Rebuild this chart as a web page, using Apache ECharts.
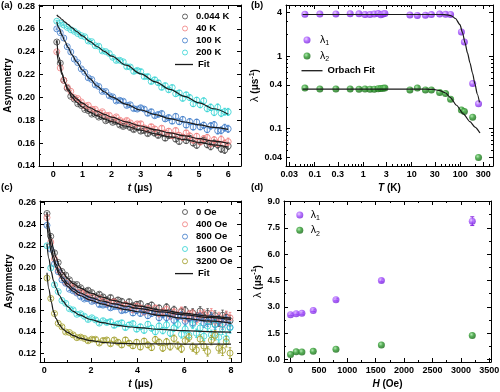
<!DOCTYPE html>
<html><head><meta charset="utf-8">
<script src="https://cdn.jsdelivr.net/npm/echarts@6/dist/echarts.min.js"></script>
<style>html,body{margin:0;padding:0;background:#fff}#c{width:500px;height:392px}</style>
</head><body><div id="c"></div>
<script>
// ---------- Panel (a): asymmetry vs time at several temperatures ----------
const T_A = [0.12,0.24,0.36,0.48,0.60,0.72,0.84,0.96,1.08,1.20,1.32,1.44,1.56,1.68,1.80,1.92,2.04,2.16,2.28,2.40,2.52,2.64,2.76,2.88,3.00,3.12,3.24,3.36,3.48,3.60,3.72,3.84,3.96,4.08,4.20,4.32,4.44,4.56,4.68,4.80,4.92,5.04,5.16,5.28,5.40,5.52,5.64,5.76,5.88,6.00];
const A_0044K = [0.2485,0.2300,0.2150,0.2080,0.2010,0.1985,0.1945,0.1930,0.1895,0.1885,0.1854,0.1853,0.1828,0.1830,0.1796,0.1805,0.1782,0.1789,0.1759,0.1746,0.1755,0.1736,0.1718,0.1734,0.1705,0.1710,0.1683,0.1701,0.1686,0.1667,0.1682,0.1643,0.1665,0.1666,0.1635,0.1614,0.1651,0.1622,0.1643,0.1601,0.1581,0.1615,0.1625,0.1587,0.1570,0.1600,0.1585,0.1550,0.1540,0.1575];
const A_40K = [0.2400,0.2258,0.2150,0.2090,0.2054,0.1999,0.1990,0.1961,0.1927,0.1931,0.1897,0.1896,0.1863,0.1875,0.1843,0.1844,0.1813,0.1830,0.1801,0.1784,0.1799,0.1778,0.1752,0.1769,0.1770,0.1734,0.1721,0.1745,0.1725,0.1693,0.1731,0.1690,0.1705,0.1665,0.1711,0.1669,0.1650,0.1690,0.1664,0.1626,0.1660,0.1610,0.1639,0.1649,0.1596,0.1629,0.1598,0.1633,0.1598,0.1613];
const A_100K = [0.2600,0.2567,0.2520,0.2444,0.2398,0.2336,0.2304,0.2250,0.2220,0.2172,0.2157,0.2110,0.2096,0.2053,0.2052,0.2015,0.2005,0.1969,0.1975,0.1967,0.1930,0.1936,0.1902,0.1898,0.1910,0.1898,0.1861,0.1876,0.1840,0.1851,0.1860,0.1812,0.1824,0.1792,0.1835,0.1787,0.1808,0.1758,0.1789,0.1741,0.1784,0.1743,0.1757,0.1719,0.1751,0.1761,0.1709,0.1712,0.1735,0.1725];
const A_200K = [0.2667,0.2650,0.2634,0.2613,0.2593,0.2579,0.2559,0.2541,0.2531,0.2494,0.2488,0.2453,0.2448,0.2407,0.2401,0.2385,0.2351,0.2324,0.2325,0.2312,0.2269,0.2266,0.2228,0.2237,0.2227,0.2182,0.2183,0.2139,0.2155,0.2129,0.2088,0.2104,0.2067,0.2087,0.2032,0.2040,0.1992,0.2023,0.1999,0.1945,0.1976,0.1936,0.1970,0.1902,0.1914,0.1869,0.1914,0.1862,0.1875,0.1873];
const ERR_A = [0.0008,0.0008,0.0008,0.0009,0.0009,0.0009,0.001,0.001,0.001,0.0011,0.0011,0.0011,0.0012,0.0012,0.0012,0.0013,0.0013,0.0014,0.0014,0.0014,0.0015,0.0015,0.0016,0.0016,0.0017,0.0017,0.0018,0.0018,0.0019,0.0019,0.002,0.002,0.0021,0.0021,0.0022,0.0022,0.0023,0.0023,0.0024,0.0025,0.0025,0.0026,0.0026,0.0027,0.0028,0.0028,0.0029,0.003,0.003,0.0031];
const FIT_T_A = [0.12,0.2,0.3,0.4,0.5,0.65,0.8,1,1.25,1.5,1.75,2,2.5,3,3.5,4,4.5,5,5.5,6];
const FIT_A_0044K = [0.2500,0.2350,0.2215,0.2125,0.2062,0.2000,0.1958,0.1915,0.1872,0.1840,0.1812,0.1788,0.1748,0.1713,0.1682,0.1655,0.1630,0.1607,0.1585,0.1565];
const FIT_A_40K = [0.2405,0.2300,0.2200,0.2130,0.2078,0.2025,0.1988,0.1950,0.1912,0.1880,0.1852,0.1828,0.1786,0.1750,0.1718,0.1690,0.1664,0.1640,0.1618,0.1598];
const FIT_A_100K = [0.2660,0.2605,0.2545,0.2490,0.2440,0.2370,0.2310,0.2240,0.2165,0.2100,0.2050,0.2005,0.1940,0.1890,0.1850,0.1815,0.1785,0.1760,0.1738,0.1720];
const FIT_A_200K = [0.2722,0.2704,0.2682,0.2660,0.2639,0.2608,0.2577,0.2538,0.2491,0.2446,0.2403,0.2362,0.2282,0.2207,0.2137,0.2071,0.2010,0.1953,0.1901,0.1853];
const A_X_TICKS = [0,1,2,3,4,5,6], A_X_MINOR = [0.5,1.5,2.5,3.5,4.5,5.5];
const A_Y_TICKS = [0.14,0.16,0.18,0.20,0.22,0.24,0.26,0.28], A_Y_MINOR = [0.15,0.17,0.19,0.21,0.23,0.25,0.27];

// ---------- Panel (b): relaxation rates vs temperature ----------
const T_B = [0.063,0.128,0.274,0.54,0.82,1.09,1.38,1.69,2.04,2.31,2.56,2.8,9.2,13.1,19.2,25.5,37.7,50,63.4,106,122,181,239];
const B_L1 = [3.78,3.8,3.82,3.85,3.84,3.76,3.74,3.8,3.86,3.72,3.82,3.88,3.7,3.64,3.66,3.74,3.8,3.77,3.76,2.15,1.56,0.42,0.22];
const B_L2 = [0.362,0.352,0.352,0.352,0.35,0.352,0.35,0.35,0.355,0.357,0.36,0.362,0.342,0.362,0.342,0.34,0.315,0.305,0.254,0.181,0.172,0.144,0.04];
const FIT_T_B1 = [0.0565,1,10,40,55,66,80,99,112,126,142,159,180,202,225,250];
const FIT_B1 = [3.75,3.75,3.75,3.75,3.7,3.6,3.3,2.71,2.1,1.52,1.1,0.81,0.58,0.41,0.3,0.23];
const FIT_T_B2 = [0.0565,1,10,20,28,38,50,62,84,116,159,202,256];
const FIT_B2 = [0.35,0.35,0.35,0.35,0.347,0.335,0.31,0.27,0.21,0.16,0.125,0.105,0.087];
const B_X_TICKS = [0.03,0.1,0.3,1,3,10,30,100,300];
const B_X_MINOR = [0.04,0.05,0.06,0.07,0.08,0.09,0.2,0.4,0.5,0.6,0.7,0.8,0.9,2,4,5,6,7,8,9,20,40,50,60,70,80,90,200,400];
const B_Y_TICKS = [0.04,0.1,0.4,1,4];
const B_Y_MINOR = [0.05,0.06,0.07,0.08,0.09,0.2,0.3,0.5,0.6,0.7,0.8,0.9,2,3,5];

// ---------- Panel (c): asymmetry vs time at several fields ----------
const T_C = [0.12,0.28,0.44,0.60,0.76,0.92,1.08,1.24,1.40,1.56,1.72,1.88,2.04,2.20,2.36,2.52,2.68,2.84,3.00,3.16,3.32,3.48,3.64,3.80,3.96,4.12,4.28,4.44,4.60,4.76,4.92,5.08,5.24,5.40,5.56,5.72,5.88,6.04,6.20,6.36,6.52,6.68,6.84,7.00,7.16,7.32,7.48,7.64,7.80,7.96];
const C_0 = [0.2500,0.2288,0.2134,0.2045,0.1961,0.1927,0.1884,0.1842,0.1840,0.1810,0.1778,0.1787,0.1765,0.1732,0.1750,0.1725,0.1700,0.1720,0.1684,0.1697,0.1684,0.1651,0.1681,0.1643,0.1656,0.1662,0.1613,0.1635,0.1649,0.1593,0.1621,0.1576,0.1630,0.1580,0.1605,0.1550,0.1587,0.1599,0.1531,0.1577,0.1538,0.1594,0.1536,0.1572,0.1514,0.1551,0.1497,0.1554,0.1536,0.1503];
const C_400 = [0.2462,0.2234,0.2078,0.1975,0.1923,0.1859,0.1838,0.1814,0.1768,0.1767,0.1758,0.1723,0.1725,0.1690,0.1712,0.1689,0.1664,0.1676,0.1680,0.1643,0.1628,0.1654,0.1637,0.1604,0.1640,0.1622,0.1584,0.1618,0.1588,0.1621,0.1568,0.1588,0.1608,0.1549,0.1582,0.1551,0.1596,0.1527,0.1563,0.1570,0.1511,0.1557,0.1564,0.1515,0.1572,0.1499,0.1536,0.1477,0.1544,0.1531];
const C_800 = [0.2390,0.2169,0.2031,0.1959,0.1884,0.1851,0.1796,0.1781,0.1760,0.1726,0.1705,0.1708,0.1683,0.1688,0.1653,0.1648,0.1653,0.1623,0.1634,0.1635,0.1597,0.1603,0.1616,0.1575,0.1597,0.1571,0.1595,0.1550,0.1571,0.1581,0.1531,0.1561,0.1532,0.1567,0.1508,0.1539,0.1552,0.1498,0.1534,0.1483,0.1534,0.1540,0.1481,0.1492,0.1534,0.1466,0.1507,0.1469,0.1514,0.1443];
const C_1600 = [0.2200,0.1994,0.1837,0.1774,0.1692,0.1665,0.1615,0.1604,0.1563,0.1568,0.1545,0.1515,0.1531,0.1511,0.1481,0.1504,0.1487,0.1496,0.1460,0.1475,0.1485,0.1440,0.1465,0.1477,0.1425,0.1447,0.1414,0.1471,0.1434,0.1401,0.1454,0.1412,0.1465,0.1388,0.1436,0.1469,0.1377,0.1426,0.1370,0.1468,0.1387,0.1436,0.1360,0.1453,0.1372,0.1471,0.1350,0.1424,0.1339,0.1438];
const C_3200 = [0.1900,0.1710,0.1570,0.1479,0.1447,0.1399,0.1394,0.1372,0.1346,0.1351,0.1339,0.1317,0.1332,0.1331,0.1296,0.1320,0.1325,0.1289,0.1325,0.1304,0.1278,0.1326,0.1295,0.1270,0.1304,0.1259,0.1314,0.1279,0.1254,0.1329,0.1304,0.1249,0.1308,0.1263,0.1338,0.1273,0.1243,0.1318,0.1348,0.1258,0.1233,0.1333,0.1268,0.1218,0.1323,0.1368,0.1248,0.1228,0.1308,0.1203];
const ERR_C = [0.001,0.001,0.001,0.0011,0.0011,0.0012,0.0012,0.0013,0.0013,0.0014,0.0014,0.0015,0.0015,0.0016,0.0017,0.0017,0.0018,0.0019,0.0019,0.002,0.0021,0.0022,0.0022,0.0023,0.0024,0.0025,0.0026,0.0026,0.0027,0.0028,0.0029,0.003,0.0031,0.0032,0.0033,0.0034,0.0035,0.0036,0.0037,0.0038,0.0039,0.004,0.0041,0.0043,0.0044,0.0045,0.0046,0.0048,0.0049,0.005];
const FIT_T_C = [0.12,0.2,0.3,0.4,0.5,0.65,0.8,1,1.25,1.5,2,2.5,3,3.5,4,5,6,7,8];
const FIT_C_0 = [0.2505,0.2370,0.2260,0.2170,0.2095,0.2010,0.1950,0.1895,0.1848,0.1812,0.1760,0.1722,0.1690,0.1665,0.1642,0.1603,0.1572,0.1547,0.1527];
const FIT_C_400 = [0.2470,0.2320,0.2200,0.2100,0.2030,0.1955,0.1900,0.1848,0.1800,0.1765,0.1718,0.1685,0.1660,0.1638,0.1618,0.1585,0.1558,0.1535,0.1515];
const FIT_C_800 = [0.2400,0.2260,0.2140,0.2065,0.2000,0.1930,0.1875,0.1822,0.1775,0.1740,0.1692,0.1657,0.1630,0.1607,0.1587,0.1553,0.1526,0.1502,0.1482];
const FIT_C_1600 = [0.2220,0.2080,0.1960,0.1875,0.1810,0.1738,0.1685,0.1635,0.1590,0.1558,0.1515,0.1485,0.1465,0.1450,0.1440,0.1423,0.1411,0.1403,0.1398];
const FIT_C_3200 = [0.1950,0.1800,0.1680,0.1590,0.1525,0.1465,0.1425,0.1395,0.1365,0.1342,0.1318,0.1303,0.1295,0.1291,0.1289,0.1288,0.1287,0.1287,0.1287];
const C_X_TICKS = [0,2,4,6,8], C_X_MINOR = [1,3,5,7];
const C_Y_TICKS = [0.12,0.14,0.16,0.18,0.20,0.22,0.24,0.26], C_Y_MINOR = [0.13,0.15,0.17,0.19,0.21,0.23,0.25];

// ---------- Panel (d): relaxation rates vs field ----------
const H_D = [0,100,200,400,800,1600,3200];
const D_L1 = [2.55,2.6,2.63,2.78,3.4,4.5,7.88];
const D_L1_ERR = [0.05,0.05,0.05,0.05,0.06,0.08,0.25];
const D_L2 = [0.28,0.43,0.42,0.46,0.58,0.82,1.36];
const D_X_TICKS = [0,500,1000,1500,2000,2500,3000,3500], D_X_MINOR = [250,750,1250,1750,2250,2750,3250];
const D_Y_TICKS = [0,1.5,3,4.5,6,7.5,9], D_Y_MINOR = [0.75,2.25,3.75,5.25,6.75,8.25];

// ---------- styling ----------
const F = '"Liberation Sans", Arial, Helvetica, sans-serif';
const COL = {k:'#404040', r:'#f07c7c', b:'#3a78c8', c:'#2fd3d3', o:'#9d9a1f'};
const PURPLE = {type:'radial',x:0.38,y:0.35,r:0.7,colorStops:[{offset:0,color:'#e6c6ff'},{offset:0.45,color:'#a553ff'},{offset:1,color:'#7420d8'}]};
const GREEN = {type:'radial',x:0.38,y:0.35,r:0.7,colorStops:[{offset:0,color:'#9fe39f'},{offset:0.45,color:'#2c9a2c'},{offset:1,color:'#126312'}]};

const X = [], Y = [];
function axisSet(list, c) {
  const isX = c.pos === 'bottom';
  const opp = isX ? 'top' : 'right';
  const tf = c.log ? (v => Math.log10(v)) : (v => v);
  let dataIdx;
  if (c.log) { dataIdx = list.length; list.push({type:'log', logBase:10, gridIndex:c.grid, min:c.min, max:c.max, position:c.pos, show:false, axisLine:{onZero:false}}); }
  const ls = {color:'#000', width:1};
  const base = {type:'value', gridIndex:c.grid, min:tf(c.min), max:tf(c.max), splitLine:{show:false}, splitArea:{show:false}, axisPointer:{show:false}, silent:true};
  if (!c.log) dataIdx = list.length;
  list.push(Object.assign({}, base, {position:c.pos,
    axisLine:{show:true, onZero:false, lineStyle:ls},
    axisTick:{show:true, inside:true, length:4, lineStyle:ls, customValues:c.major.map(tf)},
    axisLabel:{show:true, margin:c.margin, customValues:c.major.map(tf), formatter:c.fmt, fontFamily:F, fontWeight:'bold', fontSize:9, color:'#000'},
    name:c.name, nameLocation:'middle', nameGap:c.nameGap, nameTextStyle:c.nameStyle}));
  list.push(Object.assign({}, base, {position:c.pos, axisLine:{show:false, onZero:false}, axisTick:{show:true, inside:true, length:2, lineStyle:ls, customValues:c.minor.map(tf)}, axisLabel:{show:false}}));
  list.push(Object.assign({}, base, {position:opp, axisLine:{show:true, onZero:false, lineStyle:ls}, axisTick:{show:true, inside:true, length:4, lineStyle:ls, customValues:c.major.map(tf)}, axisLabel:{show:false}}));
  list.push(Object.assign({}, base, {position:opp, axisLine:{show:false, onZero:false}, axisTick:{show:true, inside:true, length:2, lineStyle:ls, customValues:c.minor.map(tf)}, axisLabel:{show:false}}));
  return dataIdx;
}
const titleStyle = () => ({fontFamily:F, fontWeight:'bold', fontSize:10, color:'#000', rich:{
  i:{fontFamily:F, fontWeight:'bold', fontStyle:'italic', fontSize:10, color:'#000', lineHeight:14},
  b:{fontFamily:F, fontWeight:'bold', fontSize:10, color:'#000', lineHeight:14},
  l:{fontFamily:F, fontWeight:'normal', fontSize:11, color:'#000', lineHeight:14},
  s:{fontFamily:F, fontWeight:'bold', fontSize:7, color:'#000', verticalAlign:'top'}
}});
const fmt2 = v => v.toFixed(2), fmt1 = v => v.toFixed(1), fmt0 = v => String(Math.round(v));
const fmtLog = v => String(Number(Math.pow(10, v).toPrecision(2)));

const xa = axisSet(X, {grid:0, pos:'bottom', min:-0.49, max:6.44, major:A_X_TICKS, minor:A_X_MINOR, fmt:fmt0, margin:4, name:'{i|t} {b|(μs)}', nameGap:15, nameStyle:titleStyle()});
const ya = axisSet(Y, {grid:0, pos:'left', min:0.14, max:0.2809, major:A_Y_TICKS, minor:A_Y_MINOR, fmt:fmt2, margin:4, name:'Asymmetry', nameGap:24, nameStyle:titleStyle()});
const xb = axisSet(X, {grid:1, pos:'bottom', log:true, min:0.02565, max:475, major:B_X_TICKS, minor:B_X_MINOR, fmt:fmtLog, margin:4, name:'{i|T} {b|(K)}', nameGap:15, nameStyle:titleStyle()});
const yb = axisSet(Y, {grid:1, pos:'left', log:true, min:0.0305, max:5.07, major:B_Y_TICKS, minor:B_Y_MINOR, fmt:fmtLog, margin:4, name:'{l|λ} {b|(μs}{s|-1}{b|)}', nameGap:21, nameStyle:titleStyle()});
const xc = axisSet(X, {grid:2, pos:'bottom', min:-0.18, max:8.43, major:C_X_TICKS, minor:C_X_MINOR, fmt:fmt0, margin:4, name:'{i|t} {b|(μs)}', nameGap:15, nameStyle:titleStyle()});
const yc = axisSet(Y, {grid:2, pos:'left', min:0.112, max:0.2616, major:C_Y_TICKS, minor:C_Y_MINOR, fmt:fmt2, margin:4, name:'Asymmetry', nameGap:25, nameStyle:titleStyle()});
const xd = axisSet(X, {grid:3, pos:'bottom', min:-115, max:3530, major:D_X_TICKS, minor:D_X_MINOR, fmt:fmt0, margin:4, name:'{i|H} {b|(Oe)}', nameGap:15, nameStyle:titleStyle()});
const yd = axisSet(Y, {grid:3, pos:'left', min:-0.15, max:9.03, major:D_Y_TICKS, minor:D_Y_MINOR, fmt:fmt1, margin:4, name:'{l|λ} {b|(μs}{s|-1}{b|)}', nameGap:19, nameStyle:titleStyle()});

function errRender(color, cap, lw) {
  return function (params, api) {
    const x = api.value(0), y = api.value(1), e = api.value(2);
    const p1 = api.coord([x, y - e]), p2 = api.coord([x, y + e]);
    const st = {stroke: color, lineWidth: lw};
    return {type:'group', children:[
      {type:'line', shape:{x1:p1[0], y1:p1[1], x2:p2[0], y2:p2[1]}, style:st},
      {type:'line', shape:{x1:p1[0]-cap, y1:p1[1], x2:p1[0]+cap, y2:p1[1]}, style:st},
      {type:'line', shape:{x1:p2[0]-cap, y1:p2[1], x2:p2[0]+cap, y2:p2[1]}, style:st}
    ]};
  };
}
const series = [];
function openSet(name, xs, ys, err, color, xi, yi) {
  series.push({type:'scatter', name, xAxisIndex:xi, yAxisIndex:yi, data: xs.map((t,i)=>[t, ys[i]]), symbol:'circle', symbolSize:6,
    itemStyle:{color:'rgba(255,255,255,0)', borderColor:color, borderWidth:1}, z:3, silent:true, emphasis:{disabled:true}});
  series.push({type:'custom', name:'_e_'+name, xAxisIndex:xi, yAxisIndex:yi, data: xs.map((t,i)=>[t, ys[i], err[i]]), renderItem: errRender(color, 1.3, 0.8), z:2, silent:true});
}
function fitLine(name, xs, ys, xi, yi, sm) {
  series.push({type:'line', name, xAxisIndex:xi, yAxisIndex:yi, data: xs.map((t,i)=>[t, ys[i]]), smooth: sm, smoothMonotone:'x', symbol:'none', showSymbol:false,
    lineStyle:{color:'#1a1a1a', width:1.2}, itemStyle:{color:'#1a1a1a'}, z:5, silent:true, emphasis:{disabled:true}});
}
openSet('0.044 K', T_A, A_0044K, ERR_A, COL.k, xa, ya);
openSet('40 K', T_A, A_40K, ERR_A, COL.r, xa, ya);
openSet('100 K', T_A, A_100K, ERR_A, COL.b, xa, ya);
openSet('200 K', T_A, A_200K, ERR_A, COL.c, xa, ya);
fitLine('Fit', FIT_T_A, FIT_A_0044K, xa, ya, 0.35);
fitLine('Fit', FIT_T_A, FIT_A_40K, xa, ya, 0.35);
fitLine('Fit', FIT_T_A, FIT_A_100K, xa, ya, 0.35);
fitLine('Fit', FIT_T_A, FIT_A_200K, xa, ya, 0.35);

series.push({type:'scatter', name:'λ1', xAxisIndex:xb, yAxisIndex:yb, data:T_B.map((t,i)=>[t,B_L1[i]]), symbol:'circle', symbolSize:7, itemStyle:{color:PURPLE}, z:3, silent:true});
series.push({type:'scatter', name:'λ2', xAxisIndex:xb, yAxisIndex:yb, data:T_B.map((t,i)=>[t,B_L2[i]]), symbol:'circle', symbolSize:7, itemStyle:{color:GREEN}, z:3, silent:true});
fitLine('Orbach Fit', FIT_T_B1, FIT_B1, xb, yb, 0.25);
fitLine('Orbach Fit', FIT_T_B2, FIT_B2, xb, yb, 0.25);

openSet('0 Oe', T_C, C_0, ERR_C, COL.k, xc, yc);
openSet('400 Oe', T_C, C_400, ERR_C, COL.r, xc, yc);
openSet('800 Oe', T_C, C_800, ERR_C, COL.b, xc, yc);
openSet('1600 Oe', T_C, C_1600, ERR_C, COL.c, xc, yc);
openSet('3200 Oe', T_C, C_3200, ERR_C, COL.o, xc, yc);
fitLine('Fit', FIT_T_C, FIT_C_0, xc, yc, 0.35);
fitLine('Fit', FIT_T_C, FIT_C_400, xc, yc, 0.35);
fitLine('Fit', FIT_T_C, FIT_C_800, xc, yc, 0.35);
fitLine('Fit', FIT_T_C, FIT_C_1600, xc, yc, 0.35);
fitLine('Fit', FIT_T_C, FIT_C_3200, xc, yc, 0.35);

series.push({type:'custom', name:'_e_d1', xAxisIndex:xd, yAxisIndex:yd, data:H_D.map((h,i)=>[h,D_L1[i],D_L1_ERR[i]]), renderItem: errRender('#8a2be2', 2, 1), z:2, silent:true});
series.push({type:'scatter', name:'λ1 ', xAxisIndex:xd, yAxisIndex:yd, data:H_D.map((h,i)=>[h,D_L1[i]]), symbol:'circle', symbolSize:7, itemStyle:{color:PURPLE}, z:3, silent:true});
series.push({type:'scatter', name:'λ2 ', xAxisIndex:xd, yAxisIndex:yd, data:H_D.map((h,i)=>[h,D_L2[i]]), symbol:'circle', symbolSize:7, itemStyle:{color:GREEN}, z:3, silent:true});

// legends: one component per entry for exact placement
const legTxt = {fontFamily:F, fontWeight:'bold', fontSize:9.5, color:'#000', lineHeight:10,
  rich:{l:{fontFamily:F, fontWeight:'normal', fontSize:10.5, color:'#000', lineHeight:14}, s:{fontFamily:F, fontWeight:'normal', fontSize:7, color:'#000', verticalAlign:'bottom'}}};
function leg(name, left, cy, w, h, kind) {
  const lamb = kind === 'lam';
  return {data:[{name, icon: kind === 'line' ? 'rect' : 'circle'}], left, top: cy - (lamb ? 7 : 5), orient:'vertical', padding:0, itemWidth:w, itemHeight:h, itemGap:0, selectedMode:false,
    itemStyle: kind === 'line' ? {color:'#1a1a1a', borderWidth:0} : (kind === 'open' ? {borderWidth:1} : {borderWidth:0}), textStyle:legTxt,
    formatter: lamb ? (n => '{l|λ}{s|' + n.trim().slice(1) + '}') : (n => n)};
}
const legends = [
  leg('0.044 K', 182, 16.5, 12, 5, 'open'), leg('40 K', 182, 28.5, 12, 5, 'open'), leg('100 K', 182, 40.5, 12, 5, 'open'), leg('200 K', 182, 52.5, 12, 5, 'open'), leg('Fit', 175, 64.5, 18, 1.3, 'line'),
  leg('λ1', 303.5, 40, 16, 7, 'lam'), leg('λ2', 303.5, 56, 16, 7, 'lam'), leg('Orbach Fit', 301.5, 70.7, 21, 1.3, 'line'),
  leg('0 Oe', 182, 212, 12, 5, 'open'), leg('400 Oe', 182, 224.3, 12, 5, 'open'), leg('800 Oe', 182, 236.6, 12, 5, 'open'), leg('1600 Oe', 182, 249, 12, 5, 'open'), leg('3200 Oe', 182, 261.3, 12, 5, 'open'), leg('Fit', 175, 273.6, 18, 1.3, 'line'),
  leg('λ1 ', 296.3, 215, 12, 7, 'lam'), leg('λ2 ', 296.3, 230.3, 12, 7, 'lam')
];

const chart = echarts.init(document.getElementById('c'), null, {renderer:'canvas'});
chart.setOption({
  animation:false,
  backgroundColor:'#fff',
  grid:[
    {left:39, top:5, width:202, height:161, outerBoundsMode:'none'},
    {left:286, top:5, width:207, height:161, outerBoundsMode:'none'},
    {left:40, top:201, width:201, height:161, outerBoundsMode:'none'},
    {left:284, top:201, width:207, height:161, outerBoundsMode:'none'}
  ],
  xAxis: X, yAxis: Y,
  legend: legends,
  series,
  graphic:[
    {type:'text', left:1, top:0, style:{text:'(a)', font:'bold 9.5px "Liberation Sans", Arial', fill:'#000'}},
    {type:'text', left:251, top:0, style:{text:'(b)', font:'bold 9.5px "Liberation Sans", Arial', fill:'#000'}},
    {type:'text', left:1, top:182, style:{text:'(c)', font:'bold 9.5px "Liberation Sans", Arial', fill:'#000'}},
    {type:'text', left:251, top:182, style:{text:'(d)', font:'bold 9.5px "Liberation Sans", Arial', fill:'#000'}}
  ]
});
</script></body></html>
